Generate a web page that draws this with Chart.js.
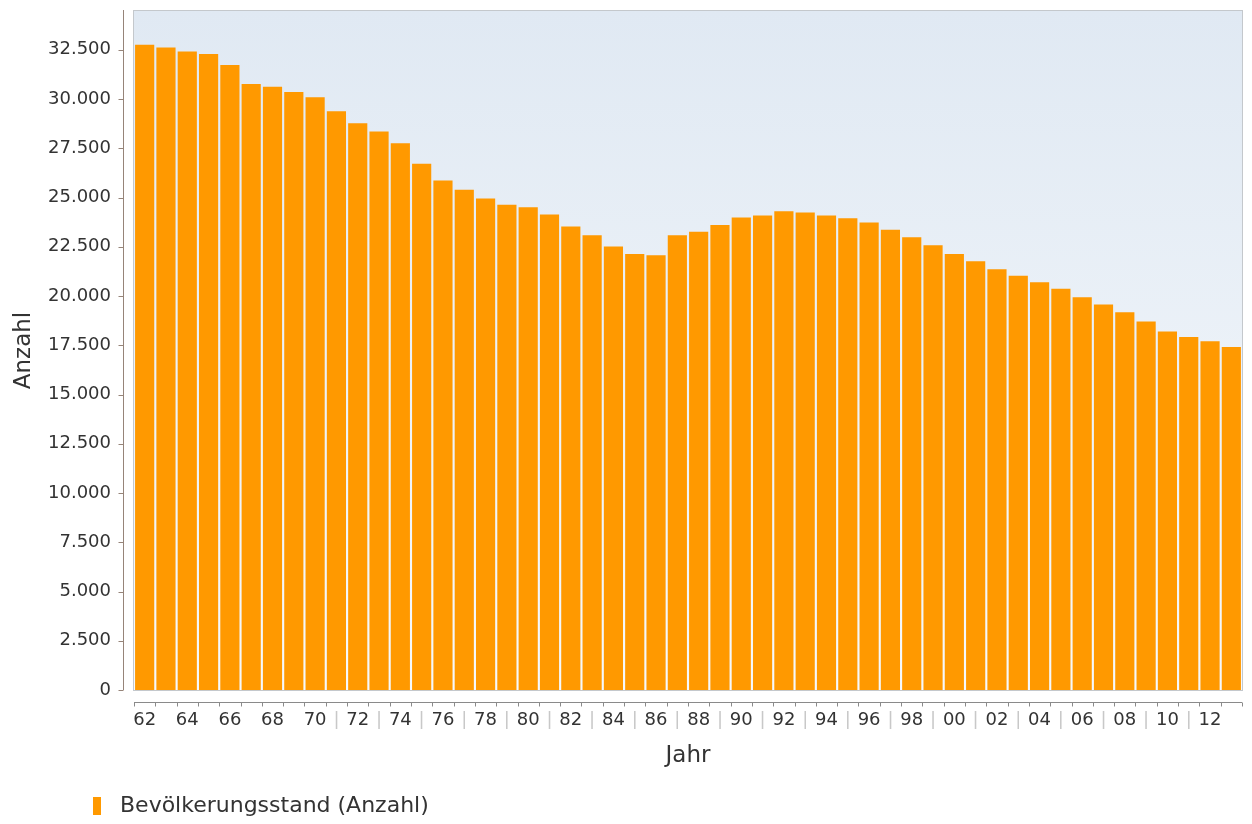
<!DOCTYPE html>
<html>
<head>
<meta charset="utf-8">
<script src="https://cdn.jsdelivr.net/npm/chart.js@4.4.1/dist/chart.umd.min.js"></script>
<style>
html,body{margin:0;padding:0;background:#fff;}
#c{display:block;}
</style>
</head>
<body>
<canvas id="c" width="1252" height="824" style="width:1252px;height:824px"></canvas>
<script>
// ---- data ----
const years = ['62','63','64','65','66','67','68','69','70','71','72','73','74','75','76','77','78','79','80','81','82','83','84','85','86','87','88','89','90','91','92','93','94','95','96','97','98','99','00','01','02','03','04','05','06','07','08','09','10','11','12','13'];
const population = [32760,32620,32420,32290,31730,30770,30630,30360,30090,29380,28770,28350,27750,26710,25860,25390,24950,24640,24510,24140,23530,23090,22520,22140,22070,23090,23260,23600,23990,24090,24310,24240,24090,23950,23730,23360,22990,22580,22140,21770,21360,21030,20700,20370,19940,19570,19180,18710,18200,17920,17710,17410];
const xTickLabels = ['62','','64','','66','','68','','70','|','72','|','74','|','76','|','78','|','80','|','82','|','84','|','86','|','88','|','90','|','92','|','94','|','96','|','98','|','00','|','02','|','04','|','06','|','08','|','10','|','12',''];
const yTickValues = [0,2500,5000,7500,10000,12500,15000,17500,20000,22500,25000,27500,30000,32500];
const seriesLabel = 'Bevölkerungsstand (Anzahl)';
const xTitle = 'Jahr';
const yTitle = 'Anzahl';
const yMax = 34470;

// ---- styles ----
const barColor = '#ff9900';
const FONT = "'DejaVu Sans', sans-serif";

function fmt(v){ return String(Math.round(v)).replace(/\B(?=(\d{3})+(?!\d))/g, '.'); }

const swatch = document.createElement('canvas');
swatch.width = 8; swatch.height = 18;
const sctx = swatch.getContext('2d');
sctx.fillStyle = barColor; sctx.fillRect(0,0,8,18);

const bgPlugin = {
  id: 'bgPlugin',
  beforeDraw(chart){
    const {ctx, chartArea:a} = chart;
    ctx.save();
    ctx.fillStyle = '#ffffff';
    ctx.fillRect(0,0,chart.width,chart.height);
    const g = ctx.createLinearGradient(0,a.top,0,a.bottom);
    g.addColorStop(0,'#e0e9f3');
    g.addColorStop(1,'#f6f9fc');
    ctx.fillStyle = g;
    ctx.fillRect(a.left,a.top,a.right-a.left,a.bottom-a.top);
    ctx.restore();
  },
  afterDatasetsDraw(chart){
    const {ctx, chartArea:a, scales} = chart;
    ctx.save();
    ctx.strokeStyle = '#c4c8cc';
    ctx.lineWidth = 1;
    ctx.strokeRect(a.left-0.5, a.top-0.5, a.right-a.left+1, a.bottom-a.top+1);
    const yAxisX = a.left - 10.5;
    ctx.strokeStyle = '#968479';
    ctx.beginPath();
    ctx.moveTo(yAxisX, a.top-1);
    ctx.lineTo(yAxisX, a.bottom);
    scales.y.ticks.forEach(t => {
      const py = Math.round(scales.y.getPixelForValue(t.value)) + 0.5;
      ctx.moveTo(yAxisX-5, py);
      ctx.lineTo(yAxisX, py);
    });
    ctx.stroke();
    const xAxisY = a.bottom + 12.5;
    ctx.strokeStyle = '#8a8a8a';
    ctx.beginPath();
    ctx.moveTo(a.left, xAxisY);
    ctx.lineTo(a.right, xAxisY);
    for (let i = 0; i <= years.length; i++) {
      const px = Math.round(scales.x.getPixelForValue(i - 0.5)) + 0.5;
      ctx.moveTo(px, xAxisY);
      ctx.lineTo(px, xAxisY + 4);
    }
    ctx.stroke();
    ctx.restore();
  }
};

const legendShift = {
  id: 'legendShift',
  afterLayout(chart){
    const lg = chart.legend;
    if (lg) { lg.left += 60; lg.right += 60; }
  }
};

new Chart(document.getElementById('c'), {
  type: 'bar',
  data: {
    labels: years,
    datasets: [{
      label: seriesLabel,
      data: population,
      backgroundColor: barColor,
      borderWidth: 0,
      barPercentage: 0.9,
      categoryPercentage: 1.0
    }]
  },
  options: {
    responsive: false,
    animation: false,
    devicePixelRatio: 1,
    layout: { padding: { top: 11, right: 10, left: 0, bottom: -3 } },
    plugins: {
      tooltip: { enabled: false },
      legend: {
        position: 'bottom',
        align: 'start',
        labels: {
          usePointStyle: true,
          pointStyle: swatch,
          pointStyleWidth: 24,
          boxHeight: 18,
          padding: 25,
          color: '#333333',
          font: { family: FONT, size: 22 }
        }
      }
    },
    scales: {
      x: {
        offset: true,
        grid: { display: false, drawTicks: false },
        border: { display: false },
        ticks: {
          autoSkip: false,
          maxRotation: 0,
          minRotation: 0,
          padding: 20,
          font: { family: FONT, size: 18 },
          color: (c) => xTickLabels[c.index] === '|' ? '#c8c8c8' : '#333333',
          callback: (v, i) => xTickLabels[i]
        },
        title: {
          display: true,
          text: xTitle,
          color: '#333333',
          font: { family: FONT, size: 23 },
          padding: { top: 0, bottom: 0 }
        },
        afterFit: (s) => { s.height = 80; s.paddingLeft = 0; s.paddingRight = 0; }
      },
      y: {
        min: 0,
        max: yMax,
        grid: { display: false, drawTicks: false },
        border: { display: false },
        afterBuildTicks: (s) => { s.ticks = yTickValues.map(v => ({ value: v })); },
        ticks: {
          padding: 23,
          color: '#333333',
          font: { family: FONT, size: 18 },
          callback: (v) => fmt(v)
        },
        title: {
          display: true,
          text: yTitle,
          color: '#333333',
          font: { family: FONT, size: 23 },
          padding: { top: 10, bottom: 0 }
        },
        afterFit: (s) => { s.width = 134; s.paddingTop = 0; s.paddingBottom = 0; }
      }
    }
  },
  plugins: [bgPlugin, legendShift]
});
</script>
</body>
</html>
